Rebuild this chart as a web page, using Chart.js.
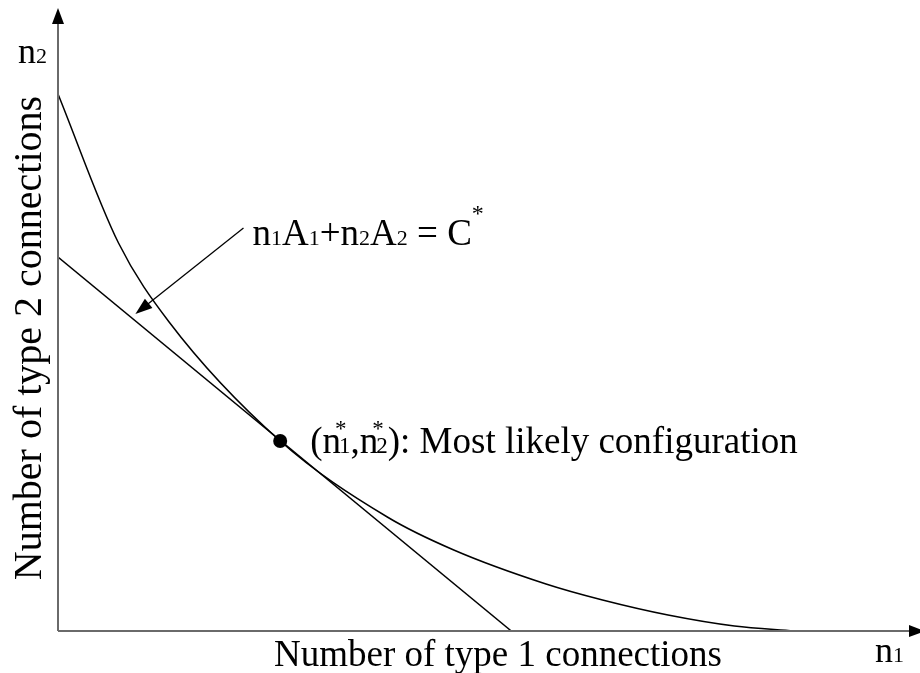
<!DOCTYPE html>
<html>
<head>
<meta charset="utf-8">
<title>Most likely configuration</title>
<script src="https://cdn.jsdelivr.net/npm/chart.js@4/dist/chart.umd.min.js"></script>
<style>
  html, body { margin: 0; padding: 0; background: #fff; }
  #wrap { width: 920px; height: 673px; }
</style>
</head>
<body>
<div id="wrap"><canvas id="chart"></canvas></div>
<script>
// Curve of equal probability (arbitrary units)
const curveX = [0, 61, 112, 224, 332, 399, 492, 549, 615, 682, 742];
const curveY = [537, 388, 309, 190, 114, 81, 47, 31, 16, 5, 0];

// Tangent line n1A1 + n2A2 = C*
const tangentX = [0, 457];
const tangentY = [374, 0];

// Most likely configuration (n1*, n2*)
const optimumX = [224];
const optimumY = [190];

// Annotation arrow pointing at the tangent line: [start, tip]
const arrowX = [187, 78];
const arrowY = [403, 317];

const axisMaxX = 862;
const axisMaxY = 621;

const SERIF = '"Liberation Serif", "DejaVu Serif", serif';

// Draw text made of pieces with their own sizes, returns the end x
function drawPieces(ctx, x, y, pieces) {
  let cx = x;
  pieces.forEach(p => {
    ctx.font = `${p.size}px ${SERIF}`;
    ctx.fillText(p.text, cx, y + (p.dy || 0));
    cx += ctx.measureText(p.text).width;
  });
  return cx;
}

function arrowHead(ctx, tipX, tipY, angle, len, half) {
  ctx.save();
  ctx.translate(tipX, tipY);
  ctx.rotate(angle);
  ctx.beginPath();
  ctx.moveTo(0, 0);
  ctx.lineTo(-len, -half);
  ctx.lineTo(-len, half);
  ctx.closePath();
  ctx.fill();
  ctx.restore();
}

const figurePlugin = {
  id: 'figure',
  afterDatasetsDraw(chart) {
    const { ctx, chartArea, scales } = chart;
    const x0 = scales.x.getPixelForValue(0);
    const y0 = scales.y.getPixelForValue(0);

    ctx.save();
    // axes
    ctx.strokeStyle = '#6a6a6a';
    ctx.fillStyle = '#000';
    ctx.lineWidth = 2;
    ctx.beginPath();
    ctx.moveTo(x0, y0);
    ctx.lineTo(x0, chartArea.top + 12);
    ctx.moveTo(x0, y0);
    ctx.lineTo(chartArea.right, y0);
    ctx.stroke();
    arrowHead(ctx, x0, chartArea.top - 2, -Math.PI / 2, 16, 6);
    arrowHead(ctx, chartArea.right + 12, y0, 0, 16, 6);

    // annotation arrow
    const ax0 = scales.x.getPixelForValue(arrowX[0]);
    const ay0 = scales.y.getPixelForValue(arrowY[0]);
    const ax1 = scales.x.getPixelForValue(arrowX[1]);
    const ay1 = scales.y.getPixelForValue(arrowY[1]);
    const ang = Math.atan2(ay1 - ay0, ax1 - ax0);
    ctx.strokeStyle = '#000';
    ctx.lineWidth = 1.3;
    ctx.beginPath();
    ctx.moveTo(ax0, ay0);
    ctx.lineTo(ax1 - 12 * Math.cos(ang), ay1 - 12 * Math.sin(ang));
    ctx.stroke();
    arrowHead(ctx, ax1, ay1, ang, 17, 6);

    // texts
    ctx.fillStyle = '#000';
    ctx.textBaseline = 'alphabetic';
    ctx.textAlign = 'left';

    // n2 at the y axis
    drawPieces(ctx, x0 - 40, chartArea.top + 53, [
      { text: 'n', size: 36 }, { text: '2', size: 22 }
    ]);
    // n1 at the x axis
    drawPieces(ctx, chartArea.right - 38, y0 + 31, [
      { text: 'n', size: 36 }, { text: '1', size: 22 }
    ]);

    // equation label, next to the arrow start
    const ex = ax0 + 9, ey = ay0 + 17;
    let cx = drawPieces(ctx, ex, ey, [
      { text: 'n', size: 37 }, { text: '1', size: 22 },
      { text: 'A', size: 37 }, { text: '1', size: 22 },
      { text: '+', size: 37 },
      { text: 'n', size: 37 }, { text: '2', size: 22 },
      { text: 'A', size: 37 }, { text: '2', size: 22 },
      { text: ' = C', size: 37 }
    ]);
    drawPieces(ctx, cx, ey - 24, [{ text: '*', size: 24 }]);

    // optimum label: (n*1, n*2) with the star stacked above the index
    const px = scales.x.getPixelForValue(optimumX[0]) + 30;
    const py = scales.y.getPixelForValue(optimumY[0]) + 12;
    cx = drawPieces(ctx, px, py, [{ text: '(n', size: 37 }]);
    drawPieces(ctx, cx - 6, py - 17, [{ text: '*', size: 23 }]);
    cx = drawPieces(ctx, cx - 2, py, [{ text: '1', size: 23 }]);
    cx = drawPieces(ctx, cx, py, [{ text: ',n', size: 37 }]);
    drawPieces(ctx, cx - 6, py - 17, [{ text: '*', size: 23 }]);
    cx = drawPieces(ctx, cx - 2, py, [{ text: '2', size: 23 }]);
    drawPieces(ctx, cx, py, [{ text: '): Most likely configuration', size: 37 }]);

    // axis titles
    ctx.font = `37px ${SERIF}`;
    ctx.textAlign = 'center';
    ctx.fillText('Number of type 1 connections', 498, y0 + 35);

    ctx.save();
    ctx.translate(x0 - 17, 338);
    ctx.rotate(-Math.PI / 2);
    ctx.font = `40px ${SERIF}`;
    ctx.fillText('Number of type 2 connections', 0, 0);
    ctx.restore();

    ctx.restore();
  }
};

new Chart(document.getElementById('chart'), {
  type: 'scatter',
  data: {
    datasets: [
      {
        label: 'curve',
        data: curveX.map((x, i) => ({ x, y: curveY[i] })),
        showLine: true,
        borderColor: '#000',
        borderWidth: 1.5,
        pointRadius: 0,
        cubicInterpolationMode: 'monotone'
      },
      {
        label: 'tangent',
        data: tangentX.map((x, i) => ({ x, y: tangentY[i] })),
        showLine: true,
        borderColor: '#000',
        borderWidth: 1.5,
        pointRadius: 0
      },
      {
        label: 'optimum',
        data: optimumX.map((x, i) => ({ x, y: optimumY[i] })),
        pointRadius: 7,
        pointBackgroundColor: '#000',
        pointBorderColor: '#000',
        borderWidth: 0
      }
    ]
  },
  options: {
    responsive: true,
    maintainAspectRatio: false,
    animation: false,
    layout: { padding: { left: 58, top: 10, right: 0, bottom: 42 } },
    scales: {
      x: { type: 'linear', min: 0, max: axisMaxX, display: false },
      y: { type: 'linear', min: 0, max: axisMaxY, display: false }
    },
    plugins: {
      legend: { display: false },
      tooltip: { enabled: false }
    }
  },
  plugins: [figurePlugin]
});
</script>
</body>
</html>
